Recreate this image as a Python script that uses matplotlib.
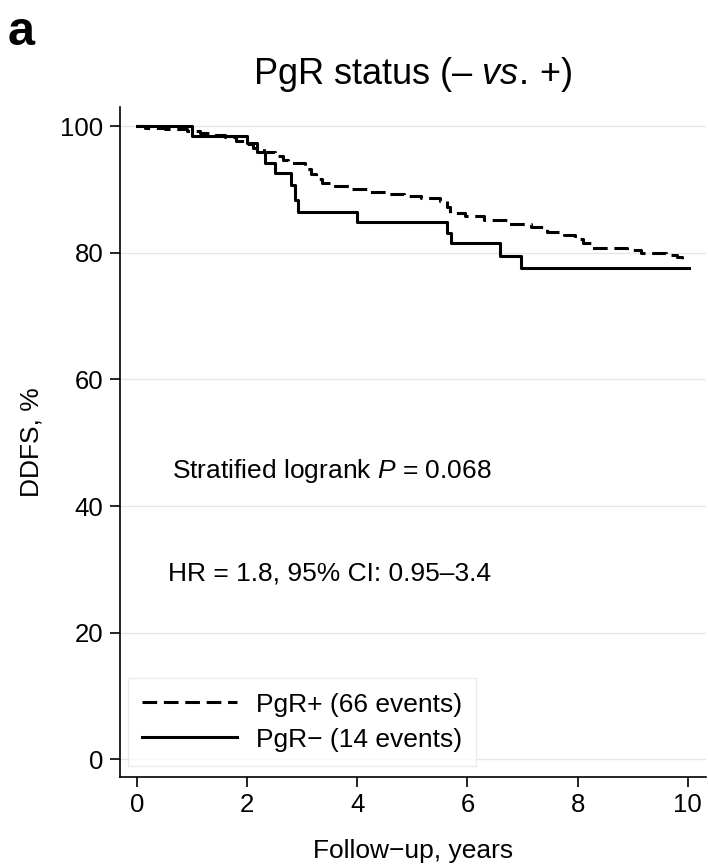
import numpy as np
import matplotlib
matplotlib.use("Agg")
import matplotlib.pyplot as plt

plt.rcParams["font.family"] = ["Liberation Sans", "DejaVu Sans"]
plt.rcParams["mathtext.fontset"] = "custom"
plt.rcParams["mathtext.rm"] = "Liberation Sans"
plt.rcParams["mathtext.it"] = "Liberation Sans:italic"

# PgR+ curve (dashed): event times (years) and DDFS (%) after each step
pos_t = [0.0, 0.15, 0.5, 0.9, 1.15, 1.4, 1.6, 1.8, 1.95, 2.1, 2.3, 2.5, 2.65, 2.75,
         3.05, 3.15, 3.25, 3.35, 3.55, 3.9, 4.2, 4.55, 4.85, 5.15, 5.5, 5.62, 5.68,
         5.95, 6.3, 6.75, 7.15, 7.45, 7.75, 7.95, 8.1, 8.25, 8.9, 9.15, 9.6, 9.8, 9.9]
pos_s = [100.0, 99.7, 99.5, 99.2, 98.9, 98.6, 98.3, 97.7, 97.2, 96.5, 95.9, 95.3, 94.6, 94.1,
         93.3, 92.5, 91.6, 91.0, 90.6, 90.1, 89.6, 89.3, 89.0, 88.6, 88.1, 87.3, 86.3,
         85.8, 85.1, 84.6, 84.0, 83.3, 82.8, 82.1, 81.5, 80.8, 80.4, 80.0, 79.6, 79.3, 78.7]
pos_end = 9.93

# PgR- curve (solid)
neg_t = [0.0, 1.0, 2.0, 2.17, 2.33, 2.5, 2.8, 2.87, 2.92, 4.0, 5.62, 5.71, 6.6, 6.98]
neg_s = [100.0, 98.5, 97.3, 95.9, 94.1, 92.6, 90.7, 88.3, 86.5, 84.9, 83.2, 81.5, 79.5, 77.6]
neg_end = 10.03

xticks = [0, 2, 4, 6, 8, 10]
yticks = [0, 20, 40, 60, 80, 100]

fs = 19

fig = plt.figure(figsize=(7.08, 8.66), dpi=100)
ax = fig.add_axes([0.1695, 0.1033, 0.8275, 0.773])

for y in yticks:
    ax.axhline(y, color="#e6e6e6", linewidth=1.0, zorder=0)

ax.step(pos_t + [pos_end], pos_s + [pos_s[-1]], where="post", color="black",
        linewidth=2.2, linestyle=(0, (4.8, 2.2)), label="PgR+ (66 events)")
ax.step(neg_t + [neg_end], neg_s + [neg_s[-1]], where="post", color="black",
        linewidth=2.2, linestyle="-", label="PgR\u2212 (14 events)")

ax.set_xlim(-0.31, 10.33)
ax.set_ylim(-2.7, 103.0)
ax.set_xticks(xticks)
ax.set_yticks(yticks)
ax.tick_params(direction="out", length=7, width=1.2, labelsize=18.5, pad=5)
for s in ["top", "right"]:
    ax.spines[s].set_visible(False)
for s in ["left", "bottom"]:
    ax.spines[s].set_linewidth(1.2)

ax.set_xlabel("Follow\u2212up, years", fontsize=fs, labelpad=16)
ax.set_ylabel("DDFS, %", fontsize=fs, labelpad=12)
ax.set_title("PgR status (\u2013 $\\it{vs.}\\,$+)", fontsize=26, pad=17)

ax.text(0.64, 45.6, "Stratified logrank $\\it{P}$ = 0.068", fontsize=fs, va="center", ha="left")
ax.text(0.56, 29.4, "HR = 1.8, 95% CI: 0.95\u20133.4", fontsize=fs, va="center", ha="left")

leg = ax.legend(loc="upper left", bbox_to_anchor=(0.013, 0.147), fontsize=fs,
                frameon=True, fancybox=False, edgecolor="#e6e6e6", handlelength=3.6,
                borderpad=0.55, labelspacing=0.42, handletextpad=0.7, borderaxespad=0)
leg.get_frame().set_linewidth(1.0)

fig.text(0.011, 0.988, "a", fontsize=35, fontweight="bold", va="top", ha="left")

fig.savefig("out.png", dpi=100)
